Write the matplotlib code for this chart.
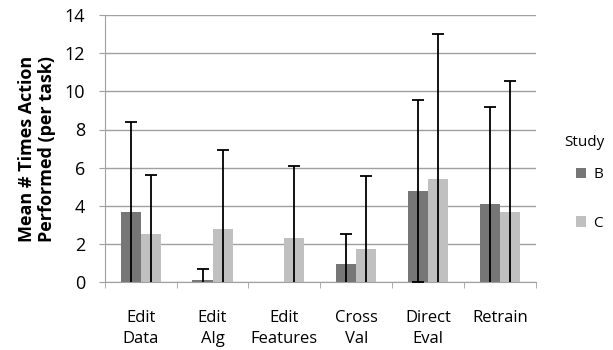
import numpy as np
import matplotlib
matplotlib.use('Agg')
import matplotlib.pyplot as plt

categories = ['Edit\nData', 'Edit\nAlg', 'Edit\nFeatures', 'Cross\nVal', 'Direct\nEval', 'Retrain']
mean_b = [3.7, 0.12, 0.0, 0.97, 4.78, 4.08]
mean_c = [2.5, 2.78, 2.3, 1.75, 5.39, 3.7]
err_b = [4.7, 0.56, 0.0, 1.55, 4.76, 5.12]
err_c = [3.1, 4.12, 3.8, 3.81, 7.61, 6.82]

plt.rcParams['font.family'] = ['Open Sans', 'DejaVu Sans']

fig = plt.figure(figsize=(6.13, 3.5), dpi=100)
ax = fig.add_axes([0.171, 0.194, 0.703, 0.763])

x = np.arange(len(categories))
w = 0.28
ax.bar(x - w/2, mean_b, w, color='#767676', label='B', zorder=2)
ax.bar(x + w/2, mean_c, w, color='#c0c0c0', label='C', zorder=2)

# no error bar where there is no data
eb = np.array(err_b)
keep = eb > 0
ax.errorbar((x - w/2)[keep], np.array(mean_b)[keep], yerr=eb[keep], fmt='none',
            ecolor='black', elinewidth=1.3, capsize=4, capthick=1.3, zorder=3)
ax.errorbar(x + w/2, mean_c, yerr=err_c, fmt='none', ecolor='black',
            elinewidth=1.3, capsize=4, capthick=1.3, zorder=3)

ax.set_xlim(-0.5, len(categories) - 0.5)
ax.set_ylim(0, 14)
ax.set_yticks(range(0, 15, 2))
ax.yaxis.grid(True, color='#a0a0a0', linewidth=1, zorder=0)
ax.set_axisbelow(True)

ax.set_xticks(x)
ax.set_xticklabels(categories, fontsize=12, linespacing=1.45)
ax.tick_params(axis='x', length=0, pad=20)
ax.set_xticks(np.arange(-0.5, len(categories)), minor=True)
ax.tick_params(axis='x', which='minor', length=4, color='#a0a0a0', direction='out')
ax.tick_params(axis='y', labelsize=13, length=4, color='#a0a0a0', pad=10)

for s in ['top', 'right']:
    ax.spines[s].set_visible(False)
ax.spines['left'].set_color('#a0a0a0')
ax.spines['bottom'].set_color('#a0a0a0')

ax.set_ylabel('Mean # Times Action\nPerformed (per task)', fontsize=13,
              fontweight='bold', labelpad=6)

fig.text(564 / 613, 1 - 142 / 350, 'Study', fontsize=11, va='center', ha='left')
h, l = ax.get_legend_handles_labels()
leg = fig.legend(h, l, loc='center left',
                 bbox_to_anchor=(568 / 613, 1 - 199 / 350),
                 frameon=False, fontsize=11, borderpad=0,
                 handlelength=0.65, handleheight=0.65, labelspacing=2.2,
                 handletextpad=0.5)

fig.savefig('out.png', dpi=100)
